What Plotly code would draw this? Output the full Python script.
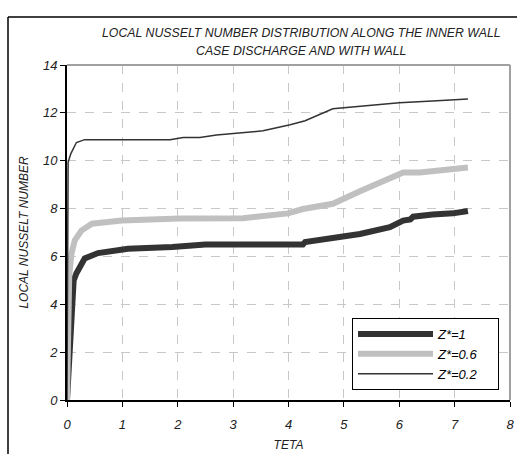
import plotly.graph_objects as go

teta_z1 = [0.0, 0.08, 0.12, 0.17, 0.25, 0.32, 0.56, 1.1, 1.9, 2.5, 3.0, 4.26, 4.3, 4.8, 5.29, 5.83, 6.07, 6.2, 6.25, 6.6, 6.97, 7.24]
nu_z1 = [0.0, 4.2, 5.0, 5.3, 5.7, 5.92, 6.14, 6.32, 6.39, 6.5, 6.5, 6.5, 6.6, 6.8, 6.94, 7.22, 7.5, 7.55, 7.66, 7.75, 7.8, 7.9]

teta_z06 = [0.0, 0.04, 0.08, 0.14, 0.26, 0.45, 0.99, 1.59, 2.04, 3.18, 3.99, 4.26, 4.62, 4.8, 5.29, 5.83, 6.07, 6.37, 6.73, 7.24]
nu_z06 = [0.0, 5.2, 6.1, 6.67, 7.08, 7.37, 7.5, 7.58, 7.58, 7.6, 7.8, 7.98, 8.13, 8.2, 8.72, 9.28, 9.51, 9.51, 9.61, 9.72]

teta_z02 = [0.0, 0.01, 0.02, 0.07, 0.17, 0.32, 1.86, 2.1, 2.4, 2.7, 3.0, 3.54, 4.03, 4.3, 4.8, 5.4, 6.0, 6.6, 7.08, 7.24]
nu_z02 = [0.0, 9.5, 9.93, 10.3, 10.76, 10.88, 10.88, 10.97, 10.97, 11.07, 11.14, 11.25, 11.5, 11.67, 12.17, 12.3, 12.42, 12.5, 12.55, 12.58]

series_names = ["Z*=1", "Z*=0.6", "Z*=0.2"]
x_ticks = [0, 1, 2, 3, 4, 5, 6, 7, 8]
y_ticks = [0, 2, 4, 6, 8, 10, 12, 14]

W, H = 517, 454
L, R, T, B = 67, 7, 65, 54
pw, ph = W - L - R, H - T - B

def px(x):
    return (x - L) / pw

def py(y):
    return (H - B - y) / ph

pad = "&nbsp;" * 4

fig = go.Figure()
fig.add_trace(go.Scatter(x=teta_z1, y=nu_z1, mode="lines", name=series_names[0],
                         line=dict(color="#333333", width=6)))
fig.add_trace(go.Scatter(x=teta_z06, y=nu_z06, mode="lines", name=series_names[1] + pad,
                         line=dict(color="#c0c0c0", width=6)))
fig.add_trace(go.Scatter(x=teta_z02, y=nu_z02, mode="lines", name=series_names[2],
                         line=dict(color="#333333", width=1.5)))

font_it = "Arial, 'Liberation Sans', sans-serif"

fig.update_layout(
    width=W, height=H,
    margin=dict(l=L, r=R, t=T, b=B, autoexpand=False),
    paper_bgcolor="white", plot_bgcolor="white",
    font=dict(family=font_it, color="#222222"),
    showlegend=True,
    legend=dict(x=px(352), y=py(318), xanchor="left", yanchor="top",
                bordercolor="#000000", borderwidth=1, bgcolor="white",
                font=dict(size=13, style="italic", color="#000000"),
                itemwidth=75),
    xaxis=dict(range=[0, 8], tickvals=x_ticks, ticktext=[str(v) for v in x_ticks],
               automargin=False,
               showline=True, linecolor="#000000", linewidth=2,
               ticks="outside", ticklen=5, tickcolor="#000000",
               ticklabelstandoff=6,
               showgrid=True, gridcolor="#c8c8c8", griddash="dash", gridwidth=1,
               zeroline=False,
               tickfont=dict(size=13, style="italic", color="#222222"),
               title=dict(text="TETA", font=dict(size=12, style="italic", color="#222222"), standoff=10)),
    yaxis=dict(range=[0, 14], tickvals=y_ticks, ticktext=[str(v) for v in y_ticks],
               automargin=False,
               showline=True, linecolor="#000000", linewidth=2,
               ticks="outside", ticklen=5, tickcolor="#000000",
               showgrid=True, gridcolor="#c8c8c8", griddash="dash", gridwidth=1,
               zeroline=False,
               tickfont=dict(size=13, style="italic", color="#222222"),
               title=dict(text="LOCAL NUSSELT NUMBER", font=dict(size=12, style="italic", color="#222222"), standoff=12)),
    annotations=[
        dict(text="LOCAL NUSSELT NUMBER DISTRIBUTION ALONG THE INNER WALL", x=px(301), y=py(33),
             xref="paper", yref="paper", showarrow=False, xanchor="center", yanchor="middle",
             font=dict(size=12.3, style="italic", color="#222222")),
        dict(text="CASE DISCHARGE AND WITH WALL", x=px(301), y=py(51),
             xref="paper", yref="paper", showarrow=False, xanchor="center", yanchor="middle",
             font=dict(size=12.3, style="italic", color="#222222")),
    ],
    shapes=[
        dict(type="line", xref="paper", yref="paper", x0=0, x1=1, y0=1, y1=1,
             line=dict(color="#a0a0a0", width=2)),
        dict(type="line", xref="paper", yref="paper", x0=1, x1=1, y0=0, y1=1,
             line=dict(color="#a0a0a0", width=2)),
        dict(type="line", xref="paper", yref="paper", x0=px(8), x1=px(530), y0=py(17), y1=py(17),
             line=dict(color="#000000", width=1.5)),
        dict(type="line", xref="paper", yref="paper", x0=px(8), x1=px(8), y0=py(17), y1=py(470),
             line=dict(color="#000000", width=1.5)),
    ],
)

fig.write_html("out.html", config={"displayModeBar": False},
               post_script="document.body.style.margin='0';document.body.style.overflow='hidden';")
